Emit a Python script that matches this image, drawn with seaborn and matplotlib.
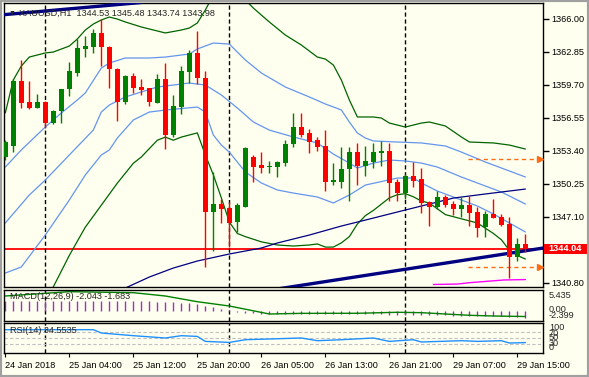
import numpy as np
import pandas as pd
import matplotlib
matplotlib.use('Agg')
import matplotlib.pyplot as plt
import matplotlib.transforms as mtransforms
import seaborn as sns

sns.set_style('white')
plt.rcParams['font.family'] = ['Liberation Sans', 'DejaVu Sans']

# ---------------- data ----------------
opens = [1352.80, 1353.88, 1360.05, 1358.05, 1357.50, 1358.05, 1356.02, 1357.16, 1359.26, 1360.85,
         1363.14, 1363.33, 1364.66, 1363.33, 1361.20, 1358.08, 1360.53, 1359.45, 1359.36, 1357.98,
         1360.22, 1354.90, 1357.60, 1360.94, 1362.75, 1360.37, 1347.58, 1348.31, 1347.90, 1346.60,
         1348.05, 1352.83, 1352.03, 1351.80, 1351.87, 1352.25, 1354.04, 1355.63, 1355.06, 1354.42,
         1353.85, 1350.44, 1350.44, 1351.62, 1353.30, 1351.94, 1352.35, 1353.20, 1353.37, 1350.44,
         1349.33, 1350.98, 1350.70, 1348.47, 1348.00, 1348.95, 1348.31, 1347.83, 1348.22, 1347.52,
         1346.15, 1347.36, 1347.10, 1346.40, 1343.22, 1344.53]
highs = [1354.42, 1360.22, 1362.06, 1360.05, 1358.81, 1358.10, 1357.30, 1359.30, 1361.90, 1364.03,
         1364.35, 1364.99, 1365.94, 1363.40, 1361.25, 1360.63, 1360.85, 1360.22, 1359.40, 1360.72,
         1361.80, 1358.72, 1361.48, 1363.01, 1364.83, 1361.01, 1351.34, 1348.76, 1348.53, 1348.40,
         1353.80, 1352.99, 1353.28, 1352.45, 1352.40, 1354.42, 1357.03, 1356.97, 1355.44, 1354.68,
         1355.38, 1352.20, 1353.78, 1353.78, 1354.11, 1353.85, 1354.11, 1354.35, 1354.16, 1350.67,
         1351.15, 1352.35, 1351.72, 1348.63, 1349.58, 1349.17, 1348.63, 1348.95, 1349.08, 1348.00,
         1347.67, 1348.76, 1347.33, 1347.04, 1345.04, 1345.48]
lows = [1352.51, 1353.30, 1357.45, 1357.38, 1357.45, 1355.60, 1355.92, 1356.07, 1358.62, 1360.53,
        1362.32, 1362.70, 1361.48, 1359.36, 1356.26, 1357.86, 1358.94, 1358.72, 1357.67, 1357.98,
        1353.53, 1354.68, 1356.87, 1359.89, 1359.74, 1342.27, 1343.85, 1346.47, 1344.24, 1345.67,
        1348.00, 1350.44, 1351.30, 1351.30, 1350.86, 1351.97, 1353.78, 1354.68, 1353.21, 1353.40,
        1349.58, 1350.13, 1349.81, 1348.63, 1350.13, 1350.98, 1351.78, 1351.94, 1348.63, 1348.63,
        1348.76, 1349.96, 1347.42, 1346.24, 1347.80, 1348.05, 1347.26, 1347.04, 1346.24, 1345.19,
        1345.19, 1347.00, 1346.24, 1341.28, 1342.90, 1343.74]
closes = [1354.23, 1360.05, 1357.98, 1357.50, 1358.05, 1356.02, 1357.19, 1359.26, 1361.01, 1363.17,
          1363.40, 1364.66, 1363.33, 1361.17, 1358.08, 1360.53, 1359.41, 1359.19, 1358.08, 1360.22,
          1354.90, 1357.67, 1361.01, 1362.75, 1360.37, 1347.58, 1348.31, 1347.83, 1346.53, 1348.22,
          1353.69, 1351.87, 1351.78, 1351.97, 1352.29, 1354.04, 1355.63, 1354.90, 1354.26, 1353.78,
          1350.44, 1350.60, 1351.65, 1353.30, 1351.94, 1352.42, 1353.30, 1353.40, 1350.35, 1349.33,
          1350.98, 1350.54, 1348.44, 1348.05, 1348.95, 1348.22, 1347.86, 1348.22, 1347.48, 1346.05,
          1347.36, 1347.00, 1346.31, 1343.28, 1344.49, 1343.98]
bars = list(range(len(opens)))

# bollinger-type envelopes, sampled at bar indices
gu_bars = [0, 1, 2, 3, 5, 6, 8, 9, 10, 11, 12, 13, 14, 15, 17, 20, 22, 23, 24, 25, 26, 28, 30, 31, 32,
           33, 35, 37, 39, 40, 41, 42, 43, 44, 46, 47, 48, 50, 52, 53, 55, 57, 58, 61, 63, 65]
gu_vals = [1357.00, 1360.15, 1361.48, 1362.34, 1362.73, 1362.82, 1363.39, 1364.06, 1364.92, 1365.49,
           1365.88, 1366.16, 1365.97, 1365.69, 1365.21, 1364.64, 1364.92, 1365.11, 1365.59, 1366.83,
           1368.26, 1369.20, 1367.79, 1367.02, 1366.35, 1365.69, 1364.44, 1363.49, 1362.34, 1362.15,
           1361.58, 1360.15, 1358.24, 1356.62, 1356.62, 1356.52, 1356.04, 1355.66, 1356.04, 1356.14,
           1355.76, 1354.71, 1354.23, 1354.14, 1353.94, 1353.56]
gl_bars = [0, 3, 5, 6, 8, 10, 12, 14, 16, 17, 19, 20, 21, 22, 23, 24, 25, 26, 27, 28, 29, 30, 32, 34,
           36, 38, 39, 40, 41, 42, 43, 44, 45, 46, 47, 48, 49, 50, 51, 52, 53, 55, 57, 59, 61, 62, 63,
           64, 65]
gl_vals = [1336.30, 1338.20, 1339.60, 1340.40, 1343.40, 1346.10, 1348.20, 1350.30, 1352.20, 1352.80,
           1354.40, 1354.70, 1354.40, 1354.70, 1354.90, 1355.10, 1353.00, 1351.10, 1348.90, 1346.60,
           1345.50, 1345.20, 1344.70, 1344.40, 1344.30, 1344.40, 1344.50, 1344.20, 1344.20, 1344.60,
           1345.20, 1346.40, 1347.20, 1347.70, 1348.30, 1348.90, 1349.20, 1349.30, 1349.00, 1348.60,
           1348.40, 1347.30, 1346.90, 1346.50, 1345.50, 1344.90, 1343.90, 1343.40, 1343.06]
b1_bars = [0, 2, 5, 7, 9, 10, 12, 13, 15, 18, 20, 23, 24, 26, 28, 30, 32, 35, 38, 40, 42, 43, 44, 45,
           46, 49, 52, 55, 57, 60, 62, 65]
b1_vals = [1351.84, 1353.47, 1355.66, 1357.00, 1358.24, 1358.91, 1361.29, 1361.77, 1362.25, 1362.25,
           1362.34, 1362.63, 1363.11, 1363.68, 1363.58, 1362.06, 1360.82, 1359.48, 1358.53, 1357.86,
           1357.29, 1356.14, 1355.09, 1354.61, 1354.33, 1354.23, 1354.14, 1353.85, 1353.27, 1352.32,
           1351.75, 1350.89]
b2_bars = [0, 3, 5, 8, 11, 12, 13, 15, 19, 23, 25, 27, 29, 31, 33, 36, 39, 41, 43, 44, 46, 48, 50, 52,
           54, 57, 60, 62, 65]
b2_vals = [1346.50, 1349.17, 1350.60, 1352.99, 1355.37, 1357.09, 1357.76, 1358.53, 1359.48, 1359.86,
           1359.67, 1358.72, 1357.48, 1356.14, 1355.37, 1354.71, 1354.14, 1353.08, 1352.22, 1351.75,
           1352.22, 1352.51, 1352.42, 1352.22, 1351.84, 1350.89, 1350.03, 1349.46, 1348.31]
b3_bars = [0, 2, 5, 8, 10, 12, 13, 14, 16, 18, 20, 24, 25, 26, 27, 28, 30, 32, 34, 36, 39, 41, 43, 45,
           49, 51, 52, 54, 56, 59, 61, 63, 65]
b3_vals = [1341.72, 1342.30, 1345.35, 1348.69, 1351.08, 1352.99, 1353.47, 1354.61, 1356.33, 1357.09,
           1357.28, 1357.57, 1357.09, 1354.90, 1353.94, 1353.27, 1351.37, 1350.32, 1349.65, 1349.36,
           1348.98, 1348.41, 1349.17, 1350.12, 1350.79, 1350.79, 1350.32, 1349.55, 1348.98, 1348.12,
           1347.36, 1346.50, 1345.64]
ma_bars = [14, 15, 18, 21, 24, 28, 32, 34, 38, 42, 46, 49, 53, 56, 60, 65]
ma_vals = [1339.91, 1340.29, 1341.34, 1342.20, 1342.87, 1343.54, 1344.11, 1344.59, 1345.35, 1346.21,
           1346.97, 1347.55, 1348.31, 1348.88, 1349.27, 1349.74]
mag_bars = [53.5, 56.5, 58, 59.5, 62.3, 65]
mag_vals = [1340.63, 1340.67, 1340.80, 1340.89, 1341.06, 1341.10]

# drawn objects
trend_top = ([-1, 17], [1366.33, 1367.55])
trend_low = ([30, 68], [1339.73, 1344.20])
hline_price = 1344.04
arrow_levels = [1352.58, 1342.33]
arrow_span = [57.8, 66.7]
separators = [5, 28, 50]

# MACD(12,26,9)
macd_hist = [2.6, 2.6, 2.7, 2.7, 2.7, 2.7, 2.7, 2.7, 2.7, 2.7, 2.8, 2.8, 2.8, 2.8, 2.7, 2.7, 2.7, 2.6,
             2.6, 2.5, 2.4, 2.3, 2.2, 2.1, 1.8, 1.3, 0.9, 0.5, 0.2, -0.3, -0.6, -0.8, -0.9, -1.0, -1.0,
             -1.0, -1.0, -1.0, -1.0, -1.0, -1.1, -1.1, -1.1, -1.1, -1.1, -1.1, -1.1, -1.1, -1.2,
             -1.2, -1.2, -1.2, -1.2, -1.3, -1.3, -1.3, -1.4, -1.4, -1.5, -1.5, -1.5, -1.5, -1.6,
             -1.8, -1.9, -2.043]
sig_bars = [0, 8, 16, 20, 24, 28, 33, 37, 44, 49, 52, 55, 58, 61, 65]
sig_vals = [4.06, 5.27, 4.99, 4.06, 2.46, 1.26, -0.98, -0.80, -0.78, -0.50, -0.61, -0.98, -1.34, -1.54,
            -1.683]

# RSI(14)
rsi_bars = [0, 11, 12, 16, 20, 22, 24, 25, 28, 30, 37, 39, 42, 46, 48, 51, 52, 57, 59, 62, 63, 65]
rsi_vals = [77.7, 77.7, 66.7, 57.7, 50.0, 57.7, 55.3, 38.7, 35.3, 44.3, 50.0, 41.0, 44.3, 50.0, 38.7,
            44.3, 36.7, 41.0, 38.7, 41.0, 33.3, 34.55]

price_ticks = [1366.00, 1362.85, 1359.70, 1356.55, 1353.40, 1350.25, 1347.10, 1340.80]
time_bars = [0, 8, 16, 24, 32, 40, 48, 56, 64]
time_labels = ['24 Jan 2018', '25 Jan 04:00', '25 Jan 12:00', '25 Jan 20:00', '26 Jan 05:00',
               '26 Jan 13:00', '26 Jan 21:00', '29 Jan 07:00', '29 Jan 15:00']

# ---------------- styles ----------------
bg = '#FFFFF0'
up_col, dn_col = '#008000', '#FF0000'
band_green = '#006400'
band_blue = '#6495ED'
navy = '#000080'
FS = 6.6
W, H = 589, 377
XLIM = (-0.16, 67.2)

fig = plt.figure(figsize=(W / 100, H / 100), dpi=100, facecolor=bg)


def px_axes(x0, y0, x1, y1):
    a = fig.add_axes([x0 / W, 1 - y1 / H, (x1 - x0) / W, (y1 - y0) / H])
    a.set_facecolor(bg)
    for s in a.spines.values():
        s.set_color('black')
        s.set_linewidth(1)
    a.set_xlim(*XLIM)
    return a


ax = px_axes(4, 3, 543, 287)
ax_macd = px_axes(4, 290, 543, 321)
ax_rsi = px_axes(4, 323, 543, 353)

# ---------------- main panel ----------------
df = pd.DataFrame({'bar': bars, 'open': opens, 'high': highs, 'low': lows, 'close': closes})
cols = np.where(df['close'] >= df['open'], up_col, dn_col)
body_lo = df[['open', 'close']].min(axis=1)
body_h = (df['close'] - df['open']).abs().clip(lower=0.1)

ax.axhline(hline_price, color='#FF0000', lw=1.3, zorder=1)
for xs, ys, c in [(gu_bars, gu_vals, band_green), (gl_bars, gl_vals, band_green),
                  (b1_bars, b1_vals, band_blue), (b2_bars, b2_vals, band_blue),
                  (b3_bars, b3_vals, band_blue), (ma_bars, ma_vals, navy)]:
    sns.lineplot(x=xs, y=ys, ax=ax, color=c, lw=0.9, legend=False, zorder=2)
sns.lineplot(x=mag_bars, y=mag_vals, ax=ax, color='#FF00FF', lw=1.0, legend=False, zorder=2)
ax.plot(*trend_top, color=navy, lw=2.4, zorder=3, solid_capstyle='butt')
ax.plot(*trend_low, color=navy, lw=2.4, zorder=3, solid_capstyle='butt')

ax.vlines(df['bar'], df['low'], df['high'], color=cols, lw=1, zorder=4)
ax.bar(df['bar'], body_h, bottom=body_lo, width=0.62, color=cols, linewidth=0, zorder=5)

for lv in arrow_levels:
    ax.plot(arrow_span, [lv, lv], color='#FF6A13', lw=1, ls=(0, (3, 2.5)), zorder=3)
    ax.plot(arrow_span[1] + 0.1, lv, marker='>', ms=4.5, color='#FF6A13', clip_on=False, zorder=6)

ax.set_ylim(1340.39, 1367.50)
ax.set_xlabel('')
ax.set_ylabel('')
ax.yaxis.tick_right()
ax.set_yticks(price_ticks)
ax.set_yticklabels([f'{p:.2f}' for p in price_ticks])
ax.tick_params(axis='y', right=True, direction='out', length=4, width=1, pad=2, labelsize=FS,
               colors='black')
ax.set_xticks([])

# current price box on the price scale
trans = mtransforms.blended_transform_factory(fig.transFigure, ax.transData)
ax.add_patch(plt.Rectangle((543.5 / W, hline_price - 0.5), 45 / W, 1.0, transform=trans,
                           facecolor='#FF0000', edgecolor='none', clip_on=False, zorder=6))
ax.text(548 / W, hline_price, '1344.04', transform=trans, va='center', ha='left', color='white',
        fontsize=FS, fontweight='bold', clip_on=False, zorder=7)
ax.text(0.008, 0.965, '\u25BC', transform=ax.transAxes, fontsize=5, va='center', ha='left')
ax.text(0.028, 0.965, 'XAUUSD,H1  1344.53 1345.48 1343.74 1343.98', transform=ax.transAxes,
        fontsize=FS, va='center', ha='left')

# ---------------- MACD ----------------
ax_macd.vlines(bars, 0, macd_hist, color='#9932CC', lw=1)
sns.lineplot(x=sig_bars, y=sig_vals, ax=ax_macd, color='#008000', lw=1, legend=False)
ax_macd.set_ylim(-2.94, 5.74)
ax_macd.set_xticks([])
ax_macd.set_yticks([])
ax_macd.set_xlabel('')
ax_macd.set_ylabel('')
ax_macd.text(0.012, 0.8, 'MACD(12,26,9) -2.043 -1.683', transform=ax_macd.transAxes, fontsize=FS,
             va='center', ha='left')
for txt, yp in [('5.435', 295), ('0.00', 309), ('-2.399', 315)]:
    fig.text(549 / W, 1 - yp / H, txt, fontsize=FS, va='center', ha='left')

# ---------------- RSI ----------------
for lv in [70, 50, 30]:
    ax_rsi.axhline(lv, color='#C0C0C0', lw=0.8, ls=(0, (3, 2)))
sns.lineplot(x=rsi_bars, y=rsi_vals, ax=ax_rsi, color='#1E90FF', lw=1, legend=False)
ax_rsi.set_ylim(0, 100)
ax_rsi.set_yticks([])
ax_rsi.set_xlabel('')
ax_rsi.set_ylabel('')
ax_rsi.text(0.012, 0.76, 'RSI(14) 34.5535', transform=ax_rsi.transAxes, fontsize=FS,
            va='center', ha='left')
for txt, yp in [('100', 328), ('70', 333), ('50', 338), ('30', 343), ('0', 348)]:
    fig.text(549 / W, 1 - yp / H, txt, fontsize=FS, va='center', ha='left')
ax_rsi.set_xticks(time_bars)
ax_rsi.set_xticklabels(time_labels, ha='left', fontsize=FS)
ax_rsi.tick_params(axis='x', bottom=True, direction='out', length=3, pad=3, colors='black')

for a in (ax, ax_macd, ax_rsi):
    for b in separators:
        a.axvline(b, color='black', lw=1, ls=(0, (3, 2)), zorder=1)

# window frame
fig.patches.append(plt.Rectangle((0, 0), 1, 1, transform=fig.transFigure, fill=False,
                                 edgecolor='#A0A0A0', lw=3))

fig.savefig('out.png', dpi=100, facecolor=bg)
